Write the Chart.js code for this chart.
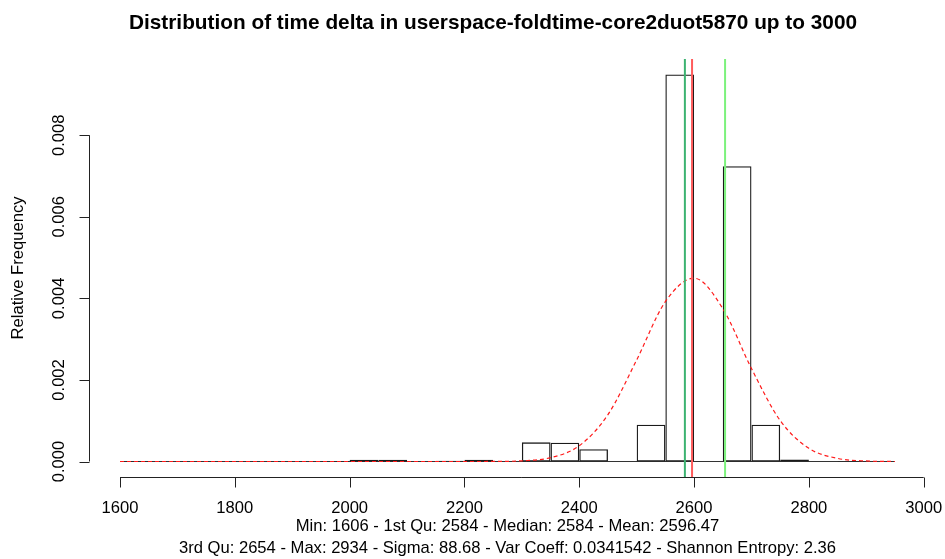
<!DOCTYPE html>
<html>
<head>
<meta charset="utf-8">
<script src="https://cdn.jsdelivr.net/npm/chart.js@4/dist/chart.umd.min.js"></script>
<style>
  html, body { margin: 0; padding: 0; background: #fff; }
  #wrap { width: 945px; height: 559px; }
</style>
</head>
<body>
<div id="wrap"><canvas id="hist" width="945" height="559"></canvas></div>
<script>
// Histogram of time delta, R-style rendering.
const TITLE = 'Distribution of time delta in userspace-foldtime-core2duot5870 up to 3000';
const Y_TITLE = 'Relative Frequency';
const FOOTER = [
  'Min: 1606 - 1st Qu: 2584 - Median: 2584 - Mean: 2596.47',
  '3rd Qu: 2654 - Max: 2934 - Sigma: 88.68 - Var Coeff: 0.0341542 - Shannon Entropy: 2.36',
];

const BIN_WIDTH = 50;
const binStarts = [1600, 1650, 1700, 1750, 1800, 1850, 1900, 1950, 2000, 2050, 2100, 2150, 2200, 2250,
  2300, 2350, 2400, 2450, 2500, 2550, 2600, 2650, 2700, 2750, 2800, 2850, 2900];
const density = [0.00001, 0, 0, 0, 0, 0, 0, 0.00001, 0.00004, 0.00004, 0, 0.00002, 0.00004, 0,
  0.00047, 0.00046, 0.0003, 0, 0.0009, 0.00949, 0, 0.00724, 0.0009, 0.00005, 0, 0.00001, 0];

// dashed normal-fit curve
const curveX = [1600, 2200, 2250, 2300, 2350, 2400, 2450, 2500, 2550, 2600, 2650, 2700, 2750, 2800, 2850, 2900, 2950];
const curveY = [0, 0, 0.000002, 0.000017, 0.000094, 0.000387, 0.00115, 0.00249, 0.00392, 0.004495, 0.00375,
  0.00228, 0.001005, 0.000323, 0.000076, 0.000013, 0];

// vertical markers: median, mean, 3rd quartile
const markerX = [2584, 2596.47, 2654];
const markerColors = ['#3cb371', '#ff5c5c', '#7cf27c'];

const xTicks = [1600, 1800, 2000, 2200, 2400, 2600, 2800, 3000];
const yTicks = [0, 0.002, 0.004, 0.006, 0.008];

// plot region (R's usr), 4% extension around data range
const X_MIN = 1546, X_MAX = 3004;
const Y_MIN = -0.00038, Y_MAX = 0.00987;

const FONT = '"Liberation Sans", Arial, Helvetica, sans-serif';

const rAxes = {
  id: 'rAxes',
  afterDraw(chart) {
    const { ctx, chartArea: ca, scales: { x, y } } = chart;
    ctx.save();
    ctx.strokeStyle = '#222';
    ctx.lineWidth = 1;
    ctx.fillStyle = '#000';

    // x axis
    const xb = Math.round(ca.bottom) + 0.5;
    ctx.beginPath();
    ctx.moveTo(x.getPixelForValue(xTicks[0]), xb);
    ctx.lineTo(x.getPixelForValue(xTicks[xTicks.length - 1]), xb);
    for (const t of xTicks) {
      const px = Math.round(x.getPixelForValue(t)) + 0.5;
      ctx.moveTo(px, xb);
      ctx.lineTo(px, xb + 10);
    }
    ctx.stroke();
    ctx.font = `16.6px ${FONT}`;
    ctx.textAlign = 'center';
    ctx.textBaseline = 'middle';
    for (const t of xTicks) ctx.fillText(String(t), x.getPixelForValue(t), 508);

    // y axis
    const yl = Math.round(ca.left) + 0.5;
    ctx.beginPath();
    ctx.moveTo(yl, y.getPixelForValue(yTicks[0]));
    ctx.lineTo(yl, y.getPixelForValue(yTicks[yTicks.length - 1]));
    for (const t of yTicks) {
      const py = Math.round(y.getPixelForValue(t)) + 0.5;
      ctx.moveTo(yl, py);
      ctx.lineTo(yl - 10, py);
    }
    ctx.stroke();
    for (const t of yTicks) {
      ctx.save();
      ctx.translate(59, y.getPixelForValue(t));
      ctx.rotate(-Math.PI / 2);
      ctx.fillText(t.toFixed(3), 0, 0);
      ctx.restore();
    }

    // axis title
    ctx.save();
    ctx.translate(18, (ca.top + ca.bottom) / 2);
    ctx.rotate(-Math.PI / 2);
    ctx.fillText(Y_TITLE, 0, 0);
    ctx.restore();

    // title + footer
    const cx = (ca.left + ca.right) / 2;
    ctx.font = `bold 20.8px ${FONT}`;
    ctx.fillText(TITLE, 493, 23);
    ctx.font = `16.6px ${FONT}`;
    ctx.fillText(FOOTER[0], cx, 526);
    ctx.fillText(FOOTER[1], cx, 548);
    ctx.restore();
  },
};

const datasets = [
  ...markerX.map((m, i) => ({
    type: 'line',
    data: [{ x: m, y: Y_MIN }, { x: m, y: Y_MAX }],
    borderColor: markerColors[i],
    borderWidth: 2,
    pointRadius: 0,
    order: 0,
  })),
  {
    type: 'line',
    data: curveX.map((v, i) => ({ x: v, y: curveY[i] })),
    borderColor: '#ff1a1a',
    borderWidth: 1.2,
    borderDash: [4, 3],
    pointRadius: 0,
    cubicInterpolationMode: 'monotone',
    order: 1,
  },
  {
    type: 'bar',
    data: binStarts.map((b, i) => ({ x: b + BIN_WIDTH / 2, y: density[i] })),
    backgroundColor: 'rgba(0,0,0,0)',
    borderColor: '#1a1a1a',
    borderWidth: 1.3,
    borderSkipped: false,
    inflateAmount: 0,
    barPercentage: 1,
    categoryPercentage: 1,
    order: 2,
  },
  {
    // zero-height bins show up as a line in R
    type: 'line',
    data: [{ x: binStarts[0], y: 0 }, { x: binStarts[binStarts.length - 1] + BIN_WIDTH, y: 0 }],
    borderColor: '#333',
    borderWidth: 1.2,
    pointRadius: 0,
    order: 3,
  },
];

new Chart(document.getElementById('hist'), {
  type: 'bar',
  data: { datasets },
  options: {
    responsive: false,
    devicePixelRatio: 1,
    animation: false,
    layout: { padding: { left: 89, right: 19, top: 59, bottom: 82 } },
    plugins: { legend: { display: false }, tooltip: { enabled: false }, title: { display: false } },
    scales: {
      x: { type: 'linear', min: X_MIN, max: X_MAX, offset: false, display: false },
      y: { type: 'linear', min: Y_MIN, max: Y_MAX, display: false },
    },
  },
  plugins: [rAxes],
});
</script>
</body>
</html>
